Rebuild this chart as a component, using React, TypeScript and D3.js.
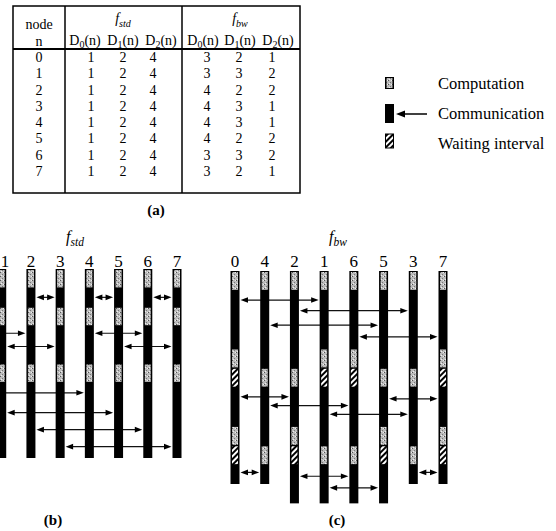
import React, { useEffect, useRef } from 'react';
import * as d3 from 'd3';

// table (a)
const nodes = [0, 1, 2, 3, 4, 5, 6, 7];
const stdD0 = [1, 1, 1, 1, 1, 1, 1, 1];
const stdD1 = [2, 2, 2, 2, 2, 2, 2, 2];
const stdD2 = [4, 4, 4, 4, 4, 4, 4, 4];
const bwD0 = [3, 3, 4, 4, 4, 4, 3, 3];
const bwD1 = [2, 3, 2, 3, 3, 2, 3, 2];
const bwD2 = [1, 2, 2, 1, 1, 2, 2, 1];

// column order of the nodes in (b) and (c)
const stdOrder = [0, 1, 2, 3, 4, 5, 6, 7];
const bwOrder = [0, 4, 2, 1, 6, 5, 3, 7];

// exchanges: [node a, node b, time]
const stdMsgs = [
  [0, 1, 1.5], [2, 3, 1.5], [4, 5, 1.5], [6, 7, 1.5],
  [0, 2, 3.4], [4, 6, 3.4], [1, 3, 4.1], [5, 7, 4.1],
  [0, 4, 6.55], [1, 5, 7.6], [2, 6, 8.5], [3, 7, 9.4],
];
const bwMsgs = [
  [0, 1, 1.5], [2, 3, 2.05], [4, 5, 2.8], [6, 7, 3.4],
  [0, 2, 6.5], [5, 7, 6.6], [4, 6, 6.95], [1, 3, 7.4],
  [0, 4, 10.4], [3, 7, 10.4], [2, 6, 10.6], [1, 5, 11.2],
];

const legendItems = ['Computation', 'Communication', 'Waiting interval'];

const FONT = '"Liberation Serif", "Times New Roman", "DejaVu Serif", serif';

function schedule(D: number[][]) {
  const starts = [1];
  for (let k = 0; k < D.length - 1; k++) starts.push(starts[k] + (d3.max(D[k]) as number) + 1);
  return nodes.map(n => {
    const segs: { type: string; t0: number; t1: number }[] = [{ type: 'comp', t0: 0, t1: 1 }];
    let end = 0;
    D.forEach((Dk, k) => {
      const s = starts[k];
      segs.push({ type: 'comm', t0: s, t1: s + Dk[n] });
      end = s + Dk[n];
      if (k < D.length - 1) {
        segs.push({ type: 'comp', t0: s + Dk[n], t1: s + Dk[n] + 1 });
        if (s + Dk[n] + 1 < starts[k + 1]) segs.push({ type: 'wait', t0: s + Dk[n] + 1, t1: starts[k + 1] });
      }
    });
    return { node: n, segs, end };
  });
}

function App() {
  const ref = useRef<SVGSVGElement>(null);

  useEffect(() => {
    const svg = d3.select(ref.current);
    svg.selectAll('*').remove();

    const defs = svg.append('defs');
    const stip = defs.append('pattern').attr('id', 'stip').attr('width', 4).attr('height', 4)
      .attr('patternUnits', 'userSpaceOnUse');
    stip.append('rect').attr('width', 4).attr('height', 4).attr('fill', '#bcbcbc');
    stip.append('rect').attr('x', 0).attr('y', 0).attr('width', 1).attr('height', 1).attr('fill', '#555');
    stip.append('rect').attr('x', 2).attr('y', 2).attr('width', 1).attr('height', 1).attr('fill', '#777');
    stip.append('rect').attr('x', 3).attr('y', 0).attr('width', 1).attr('height', 1).attr('fill', '#eee');
    stip.append('rect').attr('x', 1).attr('y', 3).attr('width', 1).attr('height', 1).attr('fill', '#eee');
    const hatch = defs.append('pattern').attr('id', 'hatch').attr('width', 4).attr('height', 4)
      .attr('patternUnits', 'userSpaceOnUse').attr('patternTransform', 'rotate(45)');
    hatch.append('rect').attr('width', 4).attr('height', 4).attr('fill', '#fff');
    hatch.append('rect').attr('width', 2).attr('height', 4).attr('fill', '#000');

    const g = svg.append('g').attr('font-family', FONT);

    // ---------- table (a)
    const tL = 13, tR = 300, tT = 6, tB = 193, sep1 = 65, sep2 = 182, hdr = 49;
    g.append('rect').attr('x', tL).attr('y', tT).attr('width', tR - tL).attr('height', tB - tT)
      .attr('fill', 'none').attr('stroke', '#000').attr('stroke-width', 1.5);
    [sep1, sep2].forEach(x => g.append('line').attr('x1', x).attr('x2', x).attr('y1', tT).attr('y2', tB)
      .attr('stroke', '#000').attr('stroke-width', 1.5));
    g.append('line').attr('x1', tL).attr('x2', tR).attr('y1', hdr).attr('y2', hdr)
      .attr('stroke', '#000').attr('stroke-width', 1.8);

    g.append('text').attr('x', 39).attr('y', 29).attr('text-anchor', 'middle').attr('font-size', 14).text('node');
    g.append('text').attr('x', 39).attr('y', 46).attr('text-anchor', 'middle').attr('font-size', 14).text('n');

    const fTitle = (sel: any, x: number, y: number, sub: string, size: number) => {
      const t = sel.append('text').attr('x', x).attr('y', y).attr('text-anchor', 'middle')
        .attr('font-size', size).attr('font-style', 'italic');
      t.append('tspan').text('f');
      t.append('tspan').attr('dy', size * 0.25).attr('font-size', size * 0.72).text(sub);
    };
    fTitle(g, 123, 23, 'std', 14);
    fTitle(g, 240, 23, 'bw', 14);

    const dHeadX = [[85, 123, 161], [203, 240, 278]];
    dHeadX.forEach(xs => xs.forEach((x, k) => {
      const t = g.append('text').attr('x', x).attr('y', 45).attr('text-anchor', 'middle').attr('font-size', 14);
      t.append('tspan').text('D');
      t.append('tspan').attr('dy', 3).attr('font-size', 10).text(String(k));
      t.append('tspan').attr('dy', -3).text('(n)');
    }));

    const rowY = d3.scaleLinear().domain([0, 7]).range([62, 176]);
    const stdCols = [stdD0, stdD1, stdD2];
    const bwCols = [bwD0, bwD1, bwD2];
    const stdX = [91, 123, 153];
    const bwX = [207, 239, 272];
    nodes.forEach(n => {
      g.append('text').attr('x', 39).attr('y', rowY(n)).attr('text-anchor', 'middle').attr('font-size', 14).text(n);
      stdCols.forEach((c, k) => g.append('text').attr('x', stdX[k]).attr('y', rowY(n))
        .attr('text-anchor', 'middle').attr('font-size', 14).text(c[n]));
      bwCols.forEach((c, k) => g.append('text').attr('x', bwX[k]).attr('y', rowY(n))
        .attr('text-anchor', 'middle').attr('font-size', 14).text(c[n]));
    });
    g.append('text').attr('x', 156).attr('y', 215).attr('text-anchor', 'middle').attr('font-size', 15)
      .attr('font-weight', 'bold').text('(a)');

    // ---------- legend
    const lx = 385, bw = 9;
    g.append('rect').attr('x', lx).attr('y', 77).attr('width', bw).attr('height', 12).attr('fill', '#000');
    g.append('rect').attr('x', lx + 1.5).attr('y', 78).attr('width', bw - 3).attr('height', 10).attr('fill', 'url(#stip)');
    g.append('rect').attr('x', lx).attr('y', 104).attr('width', bw).attr('height', 19).attr('fill', '#000');
    g.append('line').attr('x1', 427).attr('x2', 400).attr('y1', 114).attr('y2', 114).attr('stroke', '#000').attr('stroke-width', 1.5);
    g.append('path').attr('d', 'M396,114 L405,110.5 L405,117.5 Z').attr('fill', '#000');
    g.append('rect').attr('x', lx + 0.5).attr('y', 134).attr('width', 8).attr('height', 14)
      .attr('fill', 'url(#hatch)').attr('stroke', '#000').attr('stroke-width', 1);
    const legY = [89, 119, 149];
    legendItems.forEach((s, i) => g.append('text').attr('x', 438).attr('y', legY[i]).attr('font-size', 16.5).text(s));

    // ---------- timelines (b) and (c)
    const panel = (order: number[], D: number[][], msgs: number[][], xr: [number, number],
      yr: [number, number], tEnd: number, title: string, cap: string, titleX: number, capX: number) => {
      const x = d3.scaleLinear().domain([0, 7]).range(xr);
      const y = d3.scaleLinear().domain([0, tEnd]).range(yr);
      const half = 4.5;
      const sched = schedule(D);
      const p = g.append('g');

      fTitle(p, titleX, 242, title, 16);
      p.append('text').attr('x', capX).attr('y', 525).attr('text-anchor', 'middle').attr('font-size', 15)
        .attr('font-weight', 'bold').text(cap);

      // messages under the bars
      msgs.forEach(([a, b, t]) => {
        const ia = order.indexOf(a), ib = order.indexOf(b);
        const x1 = x(Math.min(ia, ib)) + half + 1, x2 = x(Math.max(ia, ib)) - half - 1;
        const yy = y(t);
        p.append('line').attr('x1', x1 + 4).attr('x2', x2 - 4).attr('y1', yy).attr('y2', yy)
          .attr('stroke', '#111').attr('stroke-width', 1.2);
        p.append('path').attr('d', `M${x1},${yy} L${x1 + 7.5},${yy - 2.8} L${x1 + 7.5},${yy + 2.8} Z`).attr('fill', '#000');
        p.append('path').attr('d', `M${x2},${yy} L${x2 - 7.5},${yy - 2.8} L${x2 - 7.5},${yy + 2.8} Z`).attr('fill', '#000');
      });

      order.forEach((n, i) => {
        const s = sched[n];
        const cx = x(i);
        // labels of columns that lie fully outside the frame are not drawn,
        // the one at the very edge is nudged in so it stays readable
        if (cx > -3) {
          p.append('text').attr('x', Math.max(cx, 5)).attr('y', 267).attr('text-anchor', 'middle')
            .attr('font-size', 17).text(n);
        }
        p.append('rect').attr('x', cx - half).attr('y', y(0)).attr('width', half * 2)
          .attr('height', y(s.end) - y(0)).attr('fill', '#000');
        s.segs.filter(d => d.type !== 'comm').forEach(d => {
          p.append('rect').attr('x', cx - half + 1.5).attr('y', y(d.t0) + 1)
            .attr('width', half * 2 - 3).attr('height', y(d.t1) - y(d.t0) - 1.5)
            .attr('fill', d.type === 'comp' ? 'url(#stip)' : 'url(#hatch)');
        });
      });
    };

    panel(stdOrder, [stdD0, stdD1, stdD2], stdMsgs, [-27.5, 177], [269, 458], 10, 'std', '(b)', 75, 53);
    panel(bwOrder, [bwD0, bwD1, bwD2], bwMsgs, [235, 443], [271, 484], 11, 'bw', '(c)', 338, 337);
  }, []);

  return (
    <svg ref={ref} width={556} height={531} style={{ position: 'absolute', left: 0, top: 0, background: '#fff' }} />
  );
}

export default App;
